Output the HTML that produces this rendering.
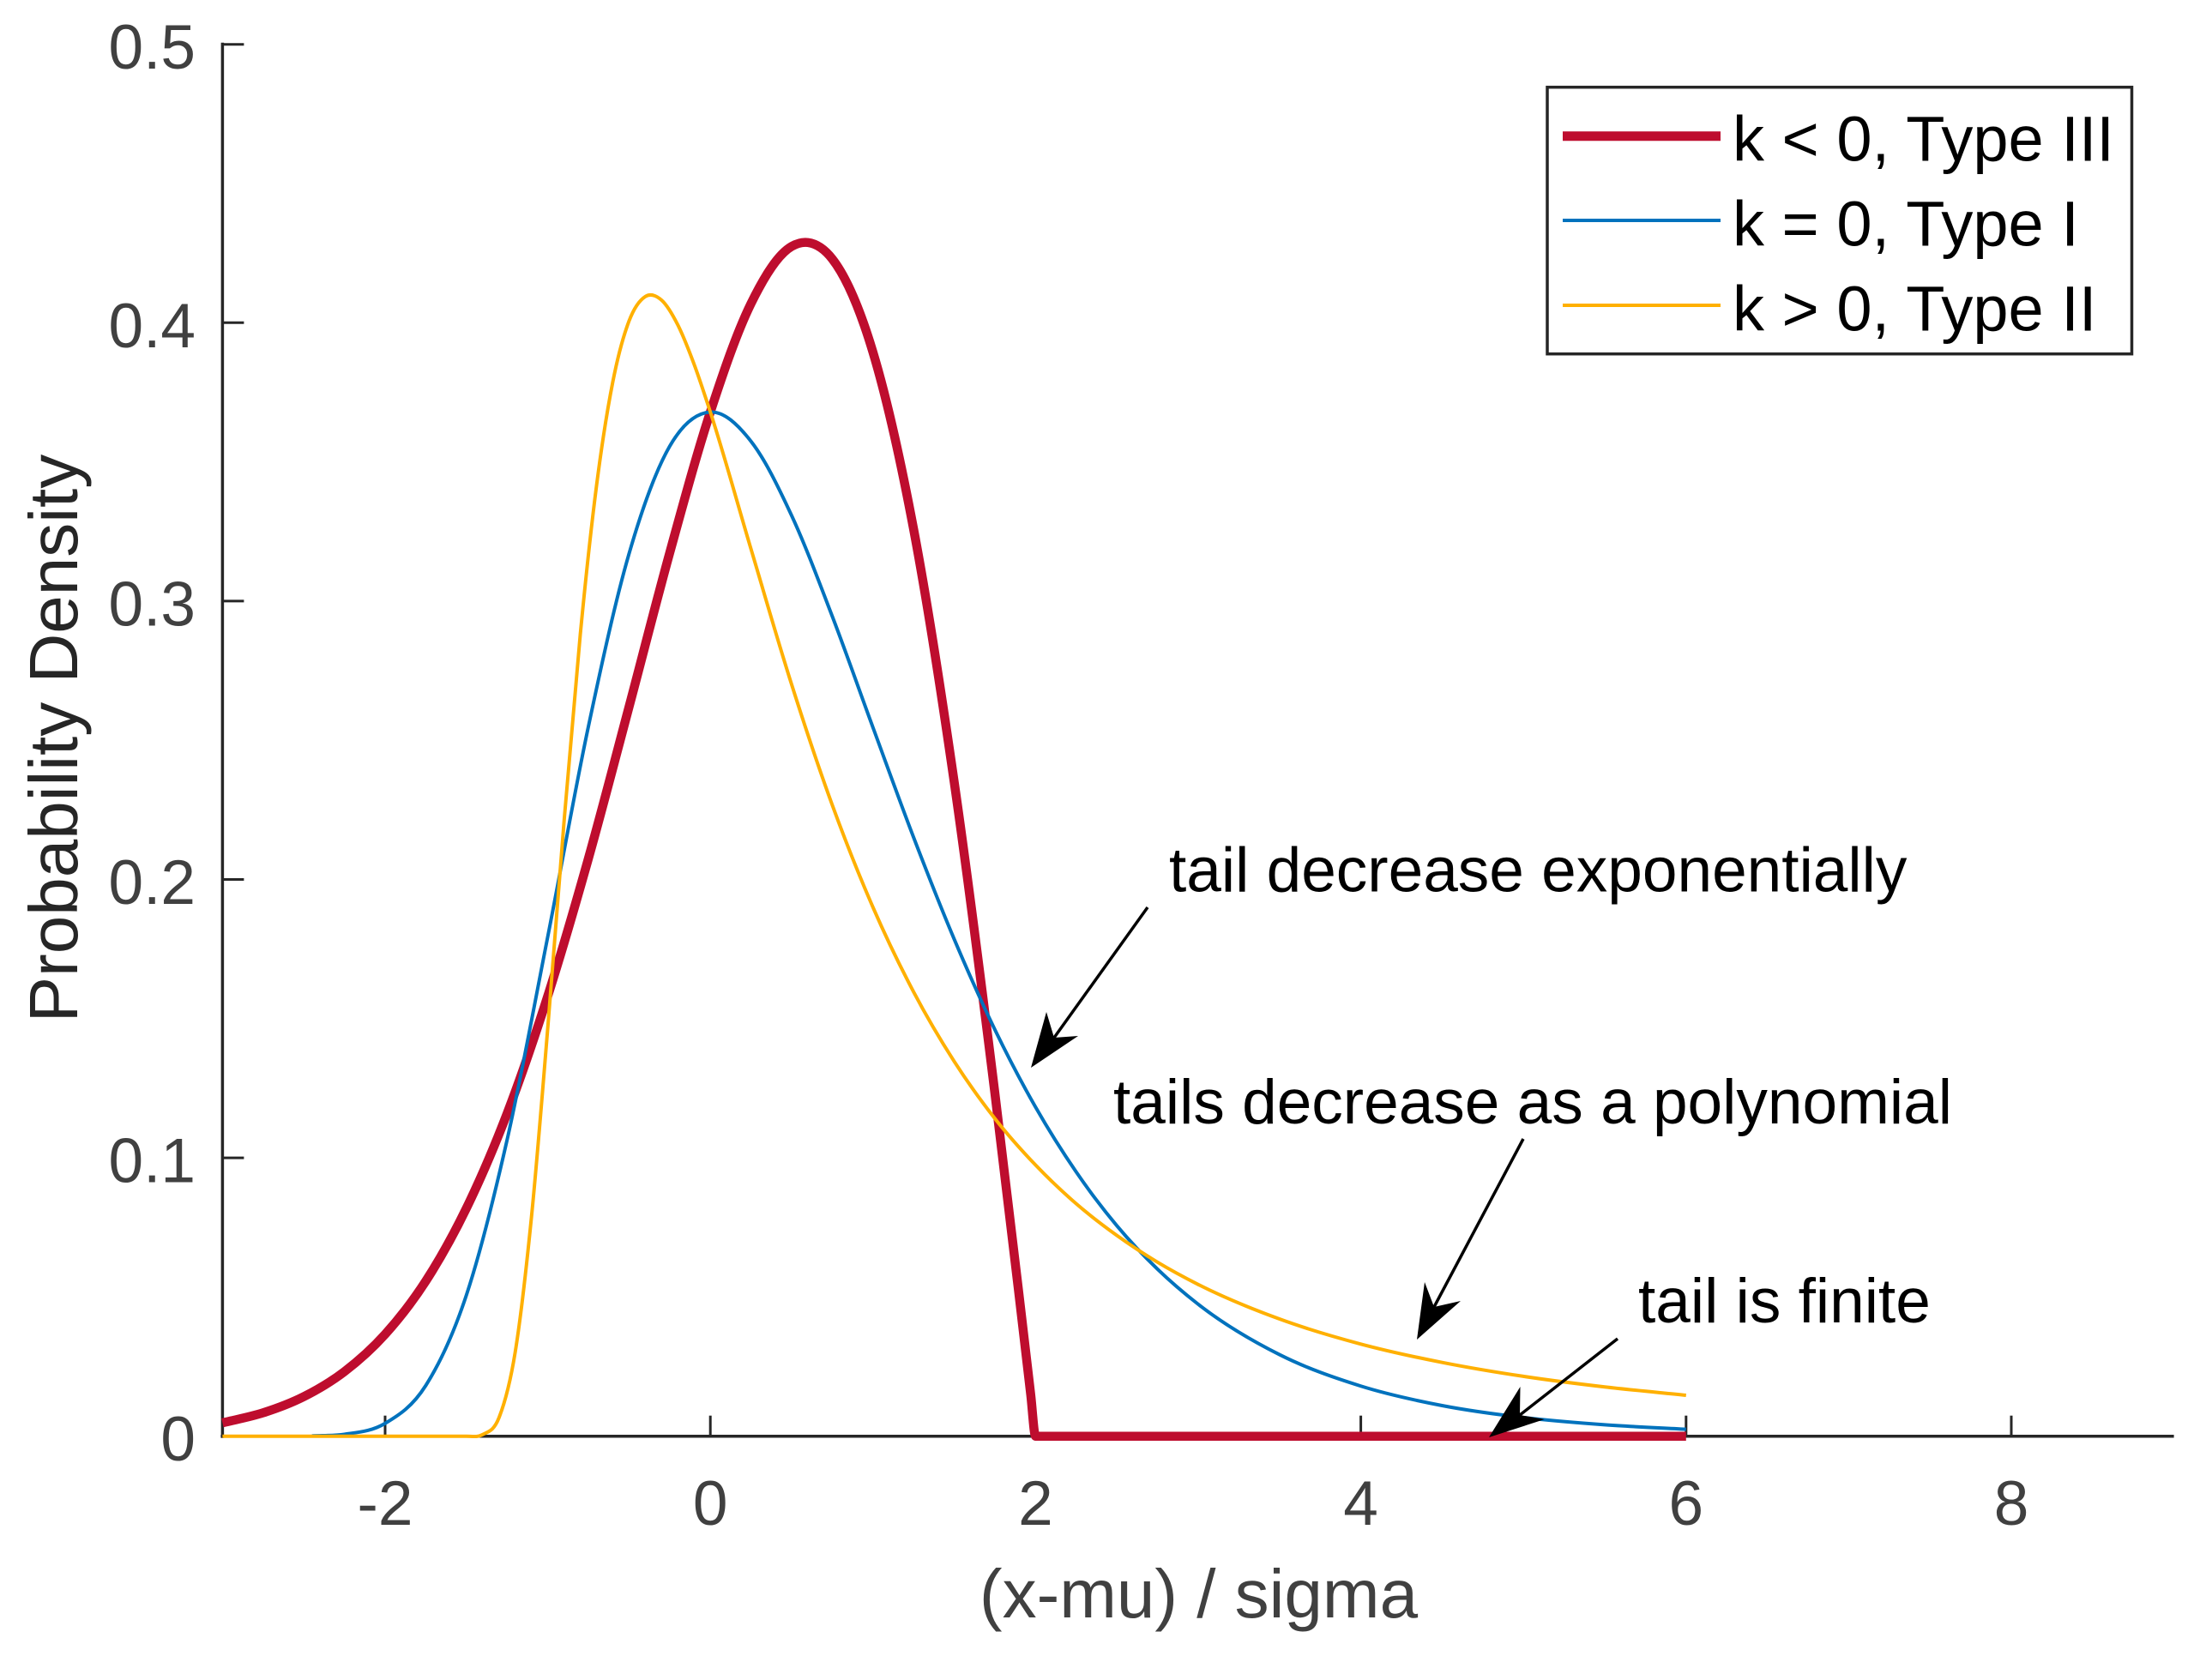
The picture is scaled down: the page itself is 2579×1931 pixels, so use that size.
<!DOCTYPE html>
<html>
<head>
<meta charset="utf-8">
<title>Generalized extreme value densities</title>
<style>
html,body{margin:0;padding:0;background:#fff;}
svg{display:block;}
text{font-family:"Liberation Sans",Arial,sans-serif;}
</style>
</head>
<body>
<svg id="chart" xmlns="http://www.w3.org/2000/svg" width="2579" height="1931" viewBox="0 0 2579 1931">
<rect x="0" y="0" width="2579" height="1931" fill="#ffffff"/>
<g id="axes"></g>
<g id="series"></g>
<g fill="#000000" font-size="73">
<text x="1363" y="1039.5">tail decrease exponentially</text>
<line x1="1338" y1="1058" x2="1229" y2="1210" stroke="#000" stroke-width="3.5"/>
<polygon points="1202,1245 1220,1180 1229,1210 1257,1208" fill="#000"/>
<text x="1298" y="1310">tails decrease as a polynomial</text>
<line x1="1776" y1="1328" x2="1672" y2="1524" stroke="#000" stroke-width="3.5"/>
<polygon points="1652,1562 1661,1495 1672,1524 1703,1517" fill="#000"/>
<text x="1910" y="1542">tail is finite</text>
<line x1="1886" y1="1561" x2="1772" y2="1650" stroke="#000" stroke-width="3.5"/>
<polygon points="1736,1676 1772.5,1617 1772,1650 1800.8,1655" fill="#000"/>
</g>
<g>
<rect x="1804" y="101.7" width="681.5" height="311" fill="#ffffff" stroke="#262626" stroke-width="3.5"/>
<line x1="1822" y1="158.7" x2="2006" y2="158.7" stroke="#BE0D2E" stroke-width="11"/>
<text x="2020" y="187.7" font-size="74" fill="#000">k &lt; 0, Type III</text>
<line x1="1822" y1="257" x2="2006" y2="257" stroke="#0072BD" stroke-width="4"/>
<text x="2020" y="286.7" font-size="74" fill="#000">k = 0, Type I</text>
<line x1="1822" y1="356" x2="2006" y2="356" stroke="#FFB000" stroke-width="4"/>
<text x="2020" y="385.5" font-size="74" fill="#000">k &gt; 0, Type II</text>
</g>
</svg>
<script>
var xTicks = [-2, 0, 2, 4, 6, 8];
var yTicks = [0, 0.1, 0.2, 0.3, 0.4, 0.5];
var yTickLabels = ['0', '0.1', '0.2', '0.3', '0.4', '0.5'];

var typeIIIx = [-3, -2.75, -2.5, -2.25, -2, -1.75, -1.5, -1.25, -1, -0.75, -0.5, -0.25, 0, 0.25, 0.5, 0.6, 0.75, 1, 1.25, 1.5, 1.75, 1.9, 1.97, 2, 3, 4, 5, 6];
var typeIIIy = [0.0048, 0.0084, 0.0142, 0.0232, 0.0366, 0.0557, 0.0819, 0.1159, 0.1581, 0.2075, 0.262, 0.3173, 0.3679, 0.4069, 0.4274, 0.4288, 0.4229, 0.3894, 0.3258, 0.2348, 0.1231, 0.0499, 0.015, 0, 0, 0, 0, 0];

var typeIx = [-2.45, -2.25, -2, -1.75, -1.5, -1.25, -1, -0.75, -0.5, -0.25, 0, 0.25, 0.5, 0.75, 1, 1.25, 1.5, 1.75, 2, 2.25, 2.5, 2.75, 3, 3.5, 4, 4.5, 5, 5.5, 6];
var typeIy = [0.0001, 0.0007, 0.0046, 0.0182, 0.0507, 0.1064, 0.1794, 0.2549, 0.317, 0.3556, 0.3679, 0.3574, 0.3307, 0.2945, 0.2546, 0.2151, 0.1785, 0.146, 0.1182, 0.0949, 0.0756, 0.06, 0.0474, 0.0293, 0.018, 0.011, 0.0067, 0.0041, 0.0025];

var typeIIx = [-3, -2, -1.5, -1.4, -1.3, -1.2, -1.1, -1, -0.9, -0.8, -0.7, -0.6, -0.5, -0.4, -0.3, -0.2, -0.1, 0, 0.25, 0.5, 0.75, 1, 1.25, 1.5, 1.75, 2, 2.25, 2.5, 2.75, 3, 3.5, 4, 4.5, 5, 5.5, 6];
var typeIIy = [0, 0, 0, 0.0006, 0.0066, 0.0302, 0.0787, 0.1465, 0.2205, 0.2879, 0.3414, 0.3787, 0.4006, 0.4094, 0.4081, 0.3992, 0.3851, 0.3679, 0.3187, 0.27, 0.2267, 0.19, 0.1596, 0.1346, 0.1141, 0.0974, 0.0835, 0.0721, 0.0625, 0.0545, 0.0421, 0.0331, 0.0265, 0.0215, 0.0177, 0.0147];

var SVG_NS = 'http://www.w3.org/2000/svg';
var plotLeft = 259.4, plotRight = 2534.6, plotTop = 51.7, plotBottom = 1674.7;
var xMin = -3, xMax = 9, yMin = 0, yMax = 0.5;

function sx(v) { return plotLeft + (v - xMin) / (xMax - xMin) * (plotRight - plotLeft); }
function sy(v) { return plotBottom - (v - yMin) / (yMax - yMin) * (plotBottom - plotTop); }

function make(tag, parent, attrs, txt) {
  var el = document.createElementNS(SVG_NS, tag);
  for (var k in attrs) el.setAttribute(k, attrs[k]);
  if (txt !== undefined) el.textContent = txt;
  parent.appendChild(el);
  return el;
}

/* cubic Hermite through the data with parabolic tangents; tangent is flat next to a zero-slope run */
function smoothPath(xs, ys) {
  var n = xs.length, px = [], py = [], s = [], t = [], i;
  for (i = 0; i < n; i++) { px.push(sx(xs[i])); py.push(sy(ys[i])); }
  for (i = 0; i < n - 1; i++) s.push((py[i + 1] - py[i]) / (px[i + 1] - px[i]));
  t.push(s[0]);
  for (i = 1; i < n - 1; i++) {
    if (s[i - 1] === 0 || s[i] === 0) { t.push(0); }
    else {
      var h0 = px[i] - px[i - 1], h1 = px[i + 1] - px[i];
      t.push((s[i - 1] * h1 + s[i] * h0) / (h0 + h1));
    }
  }
  t.push(s[n - 2]);
  var d = 'M' + px[0].toFixed(2) + ' ' + py[0].toFixed(2);
  for (i = 0; i < n - 1; i++) {
    var h = (px[i + 1] - px[i]) / 3;
    d += 'C' + (px[i] + h).toFixed(2) + ' ' + (py[i] + h * t[i]).toFixed(2) + ' ' +
         (px[i + 1] - h).toFixed(2) + ' ' + (py[i + 1] - h * t[i + 1]).toFixed(2) + ' ' +
         px[i + 1].toFixed(2) + ' ' + py[i + 1].toFixed(2);
  }
  return d;
}

var axes = document.getElementById('axes');
var seriesGroup = document.getElementById('series');
var axisColor = '#262626', labelColor = '#404040';

var yAxis = make('line', axes, {x1: plotLeft, y1: plotTop - 2, x2: plotLeft, y2: plotBottom + 2, stroke: axisColor, 'stroke-width': 3.5});


var xAxis = make('line', axes, {x1: plotLeft - 2, y1: plotBottom, x2: plotRight, y2: plotBottom, stroke: axisColor, 'stroke-width': 3.5});



xTicks.forEach(function (v) {
  var tick = make('line', axes, {x1: sx(v), y1: plotBottom, x2: sx(v), y2: plotBottom - 24, stroke: axisColor, 'stroke-width': 3});
  
  
  var label = make('text', axes, {x: sx(v), y: 1778, 'text-anchor': 'middle', 'font-size': 73, fill: labelColor}, String(v));
  
  
});

yTicks.forEach(function (v, i) {
  var tick = make('line', axes, {x1: plotLeft, y1: sy(v), x2: plotLeft + 25, y2: sy(v), stroke: axisColor, 'stroke-width': 3});
  
  
  var label = make('text', axes, {x: 228, y: sy(v) + 28.5, 'text-anchor': 'end', 'font-size': 73, fill: labelColor}, yTickLabels[i]);
  
  
});

var xTitle = make('text', axes, {x: 1397.5, y: 1886, 'text-anchor': 'middle', 'font-size': 80, fill: labelColor}, '(x-mu) / sigma');


var yTitle = make('text', axes, {x: 0, y: 0, transform: 'translate(90 861) rotate(-90)', 'text-anchor': 'middle', 'font-size': 80, fill: axisColor}, 'Probability Density');



var redLine = make('path', seriesGroup, {d: smoothPath(typeIIIx, typeIIIy), fill: 'none', stroke: '#BE0D2E', 'stroke-width': 10.5, 'stroke-linejoin': 'round'});


var blueLine = make('path', seriesGroup, {d: smoothPath(typeIx, typeIy), fill: 'none', stroke: '#0072BD', 'stroke-width': 4, 'stroke-linejoin': 'round'});


var orangeLine = make('path', seriesGroup, {d: smoothPath(typeIIx, typeIIy), fill: 'none', stroke: '#FFB000', 'stroke-width': 4, 'stroke-linejoin': 'round'});


</script>
</body>
</html>
